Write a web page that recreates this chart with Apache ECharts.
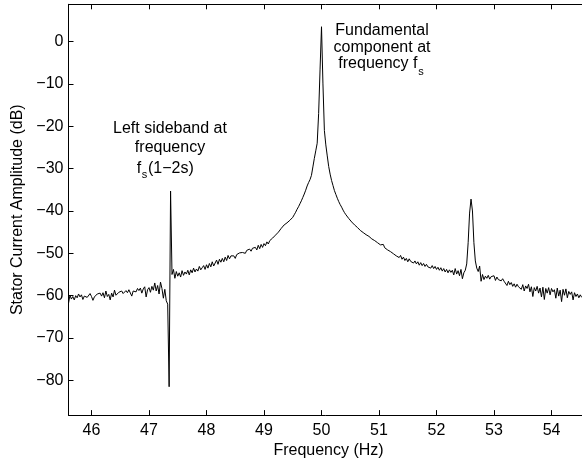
<!DOCTYPE html>
<html>
<head>
<meta charset="utf-8">
<title>Stator current spectrum</title>
<script src="https://cdn.jsdelivr.net/npm/echarts@6/dist/echarts.min.js"></script>
<style>
  html, body { margin: 0; padding: 0; background: #fff; }
  #chart { width: 582px; height: 464px; }
</style>
</head>
<body>
<div id="chart"></div>
<script>
// Spectrum bins: first bin frequency and bin spacing (Hz)
const freqStart = 45.6;
const freqStep = 0.025;

// Stator current amplitude per bin (dB), 45.600 Hz ... 54.525 Hz
const amplitudeDb = [
  -61.8, -59.9, -60.8, -60.2, -61.0, -60.0, -60.5, -59.6, -60.3, -59.8, // 45.600
  -60.9, -60.1, -59.7, -60.4, -60.0, -59.5, -60.2, -61.1, -60.3, -60.0, // 45.850
  -59.6, -59.9, -59.4, -60.1, -59.3, -60.5, -58.9, -60.2, -59.7, -61.0, // 46.100
  -59.4, -60.3, -58.7, -59.9, -60.1, -59.2, -59.6, -58.9, -59.5, -59.1, // 46.350
  -58.8, -59.3, -58.6, -59.0, -60.1, -58.9, -58.5, -59.1, -58.3, -58.8, // 46.600
  -58.2, -59.4, -58.4, -57.9, -60.3, -58.6, -58.1, -59.2, -57.8, -58.7, // 46.850
  -57.0, -58.9, -57.6, -59.6, -56.8, -58.3, -60.6, -58.5, -61.2, -62.0, // 47.100
  -81.5, -35.3, -55.0, -53.8, -55.9, -54.3, -55.4, -54.6, -55.6, -54.1, // 47.350
  -55.2, -54.4, -54.9, -54.0, -55.1, -53.9, -54.6, -53.5, -54.4, -53.7, // 47.600
  -54.2, -53.1, -53.9, -53.4, -52.9, -53.8, -52.7, -53.5, -52.4, -53.2, // 47.850
  -52.0, -53.0, -52.3, -51.6, -52.6, -51.4, -52.1, -51.2, -52.0, -50.9, // 48.100
  -51.7, -50.5, -51.3, -50.6, -51.0, -50.6, -51.2, -50.3, -50.7, -49.9, // 48.350
  -50.3, -49.8, -49.4, -50.0, -49.3, -49.7, -49.0, -49.5, -48.8, -49.2, // 48.600
  -48.6, -49.2, -48.1, -48.9, -47.9, -48.6, -47.7, -48.2, -47.3, -47.8, // 48.850
  -47.0, -47.2, -46.4, -46.7, -45.7, -45.9, -45.0, -44.9, -44.1, -44.3, // 49.100
  -43.3, -43.4, -42.8, -42.5, -42.2, -41.9, -41.5, -40.9, -40.3, -39.6, // 49.350
  -39.0, -38.3, -37.6, -36.8, -36.0, -35.1, -34.1, -33.3, -32.6, -31.6, // 49.600
  -29.6, -27.6, -25.8, -24.0, -17.0,  -6.5,   3.5, -10.0, -21.0, -24.4, // 49.850
  -27.0, -29.5, -31.3, -32.8, -34.0, -35.2, -36.1, -37.0, -37.8, -38.5, // 50.100
  -39.1, -39.8, -40.4, -40.9, -41.3, -41.8, -42.1, -42.6, -42.8, -43.3, // 50.350
  -43.5, -43.9, -44.2, -44.6, -44.9, -45.1, -45.5, -45.6, -45.9, -46.0, // 50.600
  -46.3, -46.6, -46.7, -47.0, -47.1, -47.5, -47.6, -48.0, -48.2, -47.9, // 50.850
  -48.7, -48.4, -49.2, -48.8, -49.6, -49.3, -50.1, -49.7, -50.6, -50.2, // 51.100
  -51.0, -50.5, -51.4, -50.9, -51.7, -51.2, -52.0, -51.3, -51.9, -51.5, // 51.350
  -52.3, -51.8, -52.5, -52.0, -52.8, -52.2, -52.9, -52.4, -53.1, -52.6, // 51.600
  -53.2, -52.8, -53.5, -52.9, -53.6, -53.1, -53.8, -53.3, -54.0, -53.4, // 51.850
  -54.2, -53.6, -54.4, -53.8, -54.6, -53.9, -54.5, -54.0, -55.1, -53.6, // 52.100
  -54.9, -54.1, -55.3, -53.8, -56.0, -54.6, -54.0, -52.5, -47.5, -40.5, // 52.350
  -37.2, -40.0, -47.5, -51.8, -53.5, -54.3, -53.0, -56.6, -55.0, -56.2, // 52.600
  -55.4, -55.9, -55.2, -56.1, -55.5, -55.8, -55.3, -56.4, -55.6, -56.2, // 52.850
  -55.9, -56.5, -56.0, -56.6, -56.3, -57.6, -56.6, -57.4, -56.9, -57.8, // 53.100
  -57.2, -58.0, -57.3, -57.9, -57.5, -58.5, -57.4, -58.9, -57.7, -58.3, // 53.350
  -57.3, -59.1, -57.9, -60.2, -58.1, -58.9, -57.8, -59.4, -58.2, -60.3, // 53.600
  -58.0, -60.9, -58.3, -59.4, -58.1, -59.8, -58.3, -59.1, -58.6, -60.6, // 53.850
  -58.2, -60.1, -58.7, -61.4, -58.5, -59.9, -58.4, -60.5, -59.0, -59.7, // 54.100
  -59.1, -61.0, -59.3, -60.2, -59.6, -60.5, -59.8, -60.4                // 54.350
];

// Axis ticks
const freqTicks = [46, 47, 48, 49, 50, 51, 52, 53, 54];
const ampTicks = [0, -10, -20, -30, -40, -50, -60, -70, -80];

// Axis titles and callout text
const xTitle = 'Frequency (Hz)';
const yTitle = 'Stator Current Amplitude (dB)';
const fundamentalLines = ['Fundamental', 'component at', 'frequency f'];
const sidebandLines = ['Left sideband at', 'frequency', 'f', '(1\u22122s)'];
const subscriptText = 's';

const FONT = '"Liberation Sans", Arial, Helvetica, sans-serif';
const INK = '#000';

const spectrum = amplitudeDb.map((v, i) => [freqStart + i * freqStep, v]);

const minusFmt = v => (v < 0 ? '\u2212' + Math.abs(v) : String(v));

const baseXAxis = {
  type: 'value',
  min: 45.6,
  max: 54.53,
  splitLine: { show: false },
  axisLine: { show: true, onZero: false, lineStyle: { color: INK, width: 1 } },
  axisTick: { show: true, inside: true, length: 5, customValues: freqTicks, lineStyle: { color: INK, width: 1 } }
};

function txt(text, x, y, size, align) {
  return {
    type: 'text',
    x: x,
    y: y,
    silent: true,
    style: {
      text: text,
      fill: INK,
      font: size + 'px ' + FONT,
      align: align || 'center',
      verticalAlign: 'middle'
    }
  };
}

const chart = echarts.init(document.getElementById('chart'), null, { renderer: 'canvas' });

chart.setOption({
  animation: false,
  backgroundColor: '#fff',
  grid: { left: 68.5, right: -1, top: 4.3, bottom: 48, containLabel: false },
  xAxis: [
    Object.assign({}, baseXAxis, {
      position: 'bottom',
      name: xTitle,
      nameLocation: 'middle',
      nameGap: 26,
      nameTextStyle: { color: INK, fontSize: 16, fontFamily: FONT, padding: [0, 0, 0, 6.5] },
      axisLabel: { show: true, customValues: freqTicks, margin: 7, color: INK, fontSize: 16, fontFamily: FONT }
    }),
    Object.assign({}, baseXAxis, {
      position: 'top',
      axisLabel: { show: false }
    })
  ],
  yAxis: {
    type: 'value',
    min: -88.2,
    max: 8.8,
    splitLine: { show: false },
    axisLine: { show: true, onZero: false, lineStyle: { color: INK, width: 1 } },
    axisTick: { show: true, inside: true, length: 5, customValues: ampTicks, lineStyle: { color: INK, width: 1 } },
    axisLabel: { show: true, customValues: ampTicks, margin: 5, color: INK, fontSize: 16, fontFamily: FONT, formatter: minusFmt },
    name: yTitle,
    nameLocation: 'middle',
    nameGap: 40,
    nameTextStyle: { color: INK, fontSize: 16, fontFamily: FONT }
  },
  series: [{
    type: 'line',
    data: spectrum,
    showSymbol: false,
    symbol: 'none',
    lineStyle: { color: INK, width: 1 },
    silent: true
  }],
  graphic: [
    txt(fundamentalLines[0], 382, 30.5, 16),
    txt(fundamentalLines[1], 382, 47.5, 16),
    txt(fundamentalLines[2], 417.5, 63.8, 16, 'right'),
    txt(subscriptText, 418.2, 72, 11, 'left'),
    txt(sidebandLines[0], 170, 128.5, 16),
    txt(sidebandLines[1], 170, 147.5, 16),
    txt(sidebandLines[2], 141.1, 168.5, 16, 'right'),
    txt(subscriptText, 141.7, 175, 11, 'left'),
    txt(sidebandLines[3], 148, 168.5, 16, 'left')
  ]
});
</script>
</body>
</html>
